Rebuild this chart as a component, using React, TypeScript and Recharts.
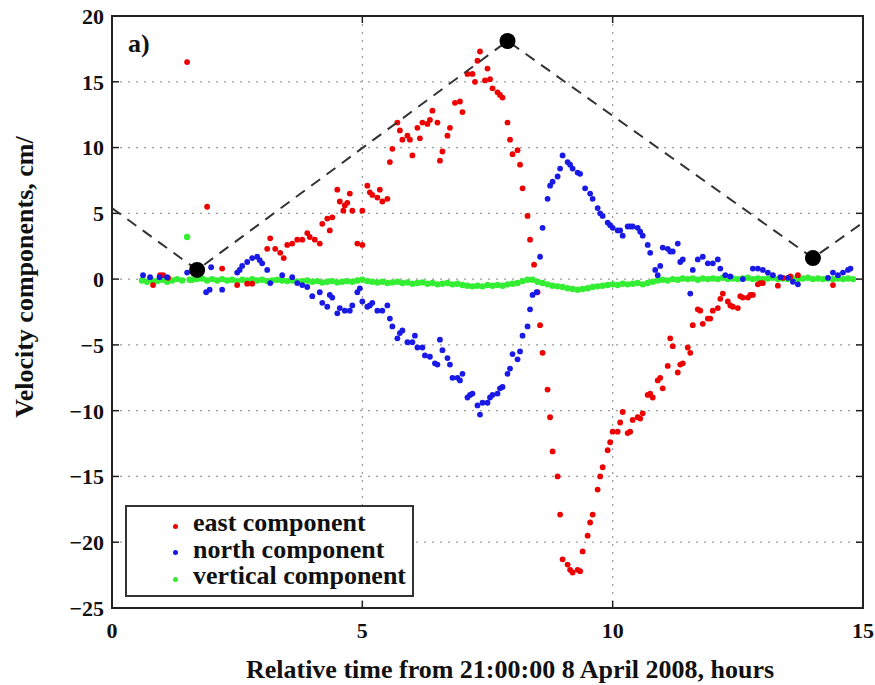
import React from 'react';
import { ScatterChart, Scatter, XAxis, YAxis, CartesianGrid, ReferenceArea, Legend } from 'recharts';

// ---- data (hours, cm/s) ----
const xTicks = [0, 5, 10, 15];
const yTicks = [-25, -20, -15, -10, -5, 0, 5, 10, 15, 20];

const eastPoints: [number, number][] = [
  [0.82, -0.45], [0.96, 0.3], [1.02, 0.3], [1.12, 0.1], [1.5, 16.5], [1.9, 5.5], [2.2, 0.8], [2.5, -0.45],
  [2.7, -0.35], [2.8, -0.35], [3.1, 2.3], [3.16, 3.1], [3.26, 2.3], [3.36, 2.0], [3.43, 1.6], [3.5, 2.6],
  [3.6, 2.7], [3.7, 3.0], [3.8, 3.0], [3.9, 3.5], [3.95, 3.2], [4.05, 3.0], [4.15, 2.7], [4.2, 4.2],
  [4.3, 4.6], [4.35, 3.7], [4.4, 4.7], [4.5, 6.8], [4.55, 5.9], [4.65, 5.6], [4.7, 5.8], [4.75, 6.5],
  [4.62, 5.2], [4.8, 5.2], [4.9, 2.7], [5.0, 2.6], [5.0, 5.2], [5.1, 7.1], [5.15, 6.6], [5.2, 6.4],
  [5.3, 6.2], [5.35, 6.8], [5.4, 5.9], [5.5, 6.1], [5.55, 8.9], [5.6, 9.9], [5.7, 11.9], [5.75, 11.3],
  [5.8, 10.6], [5.9, 10.9], [5.95, 10.6], [6.0, 9.4], [6.1, 11.5], [6.15, 10.7], [6.2, 11.9], [6.3, 11.8],
  [6.35, 12.1], [6.4, 12.8], [6.5, 11.9], [6.55, 9.0], [6.6, 9.7], [6.7, 10.9], [6.75, 11.5], [6.85, 13.4],
  [6.95, 13.5], [7.0, 12.7], [7.1, 15.6], [7.2, 15.6], [7.25, 15.0], [7.3, 16.6], [7.35, 17.3], [7.45, 15.1],
  [7.5, 16.0], [7.55, 15.2], [7.6, 14.5], [7.7, 14.2], [7.75, 14.0], [7.8, 13.8], [7.9, 11.9], [7.95, 10.6],
  [8.0, 9.5], [8.1, 9.8], [8.15, 8.7], [8.2, 6.9], [8.3, 4.8], [8.35, 3.0], [8.43, 1.1], [8.5, -1.0],
  [8.55, -3.5], [8.6, -5.6], [8.7, -8.4], [8.75, -10.5], [8.8, -13.1], [8.9, -15.0], [8.95, -17.9], [9.0, -21.3],
  [9.1, -21.7], [9.15, -22.1], [9.2, -22.3], [9.3, -22.1], [9.35, -22.2], [9.4, -20.7], [9.5, -19.5], [9.55, -18.5],
  [9.6, -17.9], [9.7, -16.0], [9.75, -15.0], [9.8, -14.3], [9.9, -13.0], [9.95, -12.4], [10.0, -11.6], [10.1, -11.6],
  [10.15, -10.9], [10.2, -10.1], [10.3, -11.7], [10.35, -11.6], [10.4, -10.7], [10.5, -10.5], [10.55, -10.6], [10.6, -10.2],
  [10.7, -8.8], [10.75, -8.7], [10.8, -9.0], [10.9, -7.7], [10.95, -7.5], [11.0, -8.3], [11.1, -6.6], [11.15, -4.5],
  [11.2, -5.1], [11.3, -7.1], [11.35, -6.5], [11.4, -6.4], [11.5, -5.2], [11.55, -5.6], [11.6, -3.5], [11.7, -2.3],
  [11.75, -2.4], [11.8, -3.4], [11.9, -3.0], [11.95, -3.0], [12.0, -2.4], [12.1, -2.2], [12.15, -1.5], [12.2, -1.1],
  [12.3, -1.7], [12.35, -2.0], [12.4, -2.1], [12.5, -2.2], [12.55, -1.3], [12.6, -1.4], [12.7, -1.4], [12.75, -1.2],
  [12.8, -1.2], [12.9, -0.4], [12.95, -0.3], [13.0, -0.3], [13.3, -0.5], [13.4, 0.1], [13.55, 0.2], [13.7, 0.3],
  [14.4, -0.45],
];

const northPoints: [number, number][] = [
  [0.62, 0.3], [0.76, 0.15], [0.95, 0.15], [1.1, 0.15], [1.5, 0.5], [1.88, -1.0], [1.95, -0.8], [1.98, 0.9],
  [2.2, -0.8], [2.5, 0.5], [2.55, 0.7], [2.6, 1.0], [2.7, 1.3], [2.8, 1.6], [2.9, 1.7], [2.95, 1.45],
  [3.0, 1.2], [3.1, 0.7], [3.16, -0.3], [3.4, 0.3], [3.6, 0.15], [3.7, -0.3], [3.8, -0.45], [3.9, -0.6],
  [4.0, -1.3], [4.15, -1.0], [4.2, -1.8], [4.3, -2.1], [4.35, -1.2], [4.4, -1.4], [4.5, -2.6], [4.55, -2.2],
  [4.65, -2.4], [4.75, -2.4], [4.8, -2.0], [4.9, -1.0], [4.95, -0.7], [5.0, -1.7], [5.1, -2.1], [5.15, -2.0],
  [5.2, -1.8], [5.3, -2.4], [5.4, -2.4], [5.5, -2.0], [5.55, -3.0], [5.6, -3.6], [5.7, -4.5], [5.75, -4.1],
  [5.8, -3.9], [5.9, -4.8], [6.0, -4.8], [6.05, -4.3], [6.1, -5.2], [6.2, -5.2], [6.25, -5.8], [6.35, -5.9],
  [6.45, -6.4], [6.5, -6.5], [6.55, -4.6], [6.6, -5.4], [6.7, -6.0], [6.75, -6.5], [6.8, -7.5], [6.9, -7.5],
  [6.95, -7.7], [7.0, -7.2], [7.1, -9.0], [7.15, -8.8], [7.2, -8.7], [7.3, -9.6], [7.35, -10.3], [7.4, -9.4],
  [7.5, -9.4], [7.55, -9.0], [7.6, -8.8], [7.7, -8.7], [7.75, -8.3], [7.8, -8.2], [7.9, -7.2], [7.95, -6.8],
  [8.0, -5.7], [8.1, -6.1], [8.15, -5.5], [8.2, -4.3], [8.3, -3.6], [8.35, -2.3], [8.4, -1.2], [8.48, -1.0],
  [8.55, 1.7], [8.6, 3.9], [8.7, 6.1], [8.75, 7.1], [8.8, 7.4], [8.9, 7.8], [8.95, 8.4], [9.0, 9.4],
  [9.1, 8.9], [9.15, 8.7], [9.2, 8.4], [9.3, 8.1], [9.35, 8.0], [9.45, 6.9], [9.55, 6.5], [9.6, 6.1],
  [9.7, 5.4], [9.75, 5.0], [9.8, 4.8], [9.9, 4.3], [9.95, 4.1], [10.0, 3.9], [10.1, 3.7], [10.15, 3.7],
  [10.2, 3.3], [10.3, 4.0], [10.35, 4.0], [10.4, 4.0], [10.5, 3.9], [10.55, 3.6], [10.6, 3.3], [10.7, 2.6],
  [10.75, 2.0], [10.85, 0.7], [10.9, 0.3], [10.95, 1.0], [11.0, 2.4], [11.1, 2.3], [11.15, 2.1], [11.2, 2.1],
  [11.3, 2.7], [11.35, 1.3], [11.4, 1.5], [11.55, -1.1], [11.6, 0.7], [11.7, 1.5], [11.8, 1.7], [11.9, 1.2],
  [12.0, 1.2], [12.1, 1.5], [12.15, 0.8], [12.25, 0.3], [12.35, 0.2], [12.6, 0.0], [12.8, 0.8], [12.9, 0.8],
  [13.0, 0.7], [13.1, 0.5], [13.2, 0.3], [13.35, 0.15], [13.5, 0.1], [13.6, -0.2], [13.7, -0.4], [14.3, 0.1],
  [14.4, 0.5], [14.5, 0.3], [14.6, 0.5], [14.7, 0.7], [14.75, 0.8],
];

const verticalPoints: [number, number][] = [
  [0.6, -0.1], [0.7, -0.2], [0.8, -0.1], [0.9, -0.15], [1.0, -0.05], [1.1, -0.2], [1.2, -0.1], [1.3, 0.0],
  [1.4, -0.1], [1.5, 3.2], [1.55, -0.05], [1.6, -0.05], [1.7, 0.0], [1.8, 0.05], [1.9, -0.1], [2.0, 0.0],
  [2.1, -0.1], [2.2, 0.0], [2.3, -0.1], [2.4, -0.05], [2.5, -0.15], [2.6, -0.05], [2.7, -0.1], [2.8, 0.0],
  [2.9, -0.1], [3.0, -0.05], [3.1, -0.15], [3.2, -0.1], [3.3, -0.05], [3.4, -0.1], [3.5, -0.15], [3.6, -0.1],
  [3.7, -0.2], [3.8, -0.15], [3.9, -0.1], [4.0, -0.2], [4.1, -0.15], [4.2, -0.25], [4.3, -0.2], [4.4, -0.15],
  [4.5, -0.25], [4.6, -0.2], [4.7, -0.15], [4.8, -0.2], [4.9, -0.1], [5.0, -0.05], [5.1, -0.15], [5.2, -0.2],
  [5.3, -0.25], [5.4, -0.2], [5.5, -0.3], [5.6, -0.25], [5.7, -0.2], [5.8, -0.3], [5.9, -0.25], [6.0, -0.35],
  [6.1, -0.3], [6.2, -0.25], [6.3, -0.35], [6.4, -0.3], [6.5, -0.4], [6.6, -0.35], [6.7, -0.3], [6.8, -0.4],
  [6.9, -0.35], [7.0, -0.45], [7.1, -0.5], [7.2, -0.55], [7.3, -0.5], [7.4, -0.55], [7.5, -0.45], [7.6, -0.5],
  [7.7, -0.45], [7.8, -0.5], [7.9, -0.4], [8.0, -0.35], [8.1, -0.3], [8.2, -0.15], [8.3, -0.05], [8.4, -0.05],
  [8.5, -0.2], [8.6, -0.3], [8.7, -0.4], [8.8, -0.5], [8.9, -0.55], [9.0, -0.6], [9.1, -0.7], [9.2, -0.75],
  [9.3, -0.8], [9.4, -0.75], [9.5, -0.7], [9.6, -0.6], [9.7, -0.55], [9.8, -0.5], [9.9, -0.45], [10.0, -0.4],
  [10.1, -0.45], [10.2, -0.35], [10.3, -0.4], [10.4, -0.35], [10.5, -0.3], [10.6, -0.4], [10.7, -0.3], [10.8, -0.2],
  [10.9, -0.1], [11.0, -0.05], [11.1, -0.1], [11.2, 0.0], [11.3, -0.05], [11.4, 0.05], [11.5, 0.0], [11.6, 0.05],
  [11.7, -0.05], [11.8, 0.05], [11.9, 0.0], [12.0, 0.05], [12.1, 0.0], [12.2, 0.1], [12.3, 0.0], [12.4, 0.05],
  [12.5, 0.0], [12.6, 0.05], [12.7, 0.1], [12.8, 0.0], [12.9, 0.05], [13.0, 0.0], [13.1, 0.05], [13.2, 0.1],
  [13.3, 0.0], [13.4, 0.05], [13.5, 0.0], [13.6, 0.05], [13.7, 0.0], [13.8, 0.05], [13.9, 0.1], [14.0, 0.0],
  [14.1, 0.05], [14.2, 0.0], [14.3, 0.05], [14.4, 0.0], [14.5, 0.05], [14.6, 0.0], [14.7, 0.05], [14.8, 0.0],
];

// dashed track and its apex markers
const trackPoints: [number, number][] = [[0, 5.4], [1.7, 0.7], [7.9, 18.1], [14.0, 1.6], [15, 4.3]];
const apexPoints: [number, number][] = [[1.7, 0.7], [7.9, 18.1], [14.0, 1.6]];

const seriesNames = ['east component', 'north component', 'vertical component'];
const seriesColors = ['#ee0000', '#1a1ae6', '#33ee33'];

// ---- layout (page coordinates; the wrapper is placed at the page origin) ----
const W = 875;
const H = 685;
const PL = 112;
const PR = 863;
const PT = 16;
const PB = 608;
const FONT = 'Liberation Serif, Times New Roman, Times, DejaVu Serif, serif';

const toObj = (arr: [number, number][]) => arr.map(([x, y]) => ({ x, y }));

const fmt = (v: number) => (v < 0 ? '\u2212' + Math.abs(v) : String(v));

const YTick = (props: any) => {
  const { y, payload } = props;
  const v = payload.value;
  const inner = v !== -25 && v !== 20;
  return (
    <g>
      <text x={PL - 8} y={y} dy="0.36em" textAnchor="end" style={{ fontFamily: FONT }} fontSize={22} fontWeight="bold" fill="#111">
        {fmt(v)}
      </text>
      {inner && <line x1={PL} x2={PL + 7} y1={y} y2={y} stroke="#222" strokeWidth={1.5} />}
      {inner && <line x1={PR - 7} x2={PR} y1={y} y2={y} stroke="#222" strokeWidth={1.5} />}
    </g>
  );
};

const XTick = (props: any) => {
  const { x, payload } = props;
  const v = payload.value;
  const inner = v !== 0 && v !== 15;
  return (
    <g>
      <text x={x} y={PB + 30} textAnchor="middle" style={{ fontFamily: FONT }} fontSize={22} fontWeight="bold" fill="#111">
        {fmt(v)}
      </text>
      {inner && <line x1={x} x2={x} y1={PB} y2={PB - 7} stroke="#222" strokeWidth={1.5} />}
      {inner && <line x1={x} x2={x} y1={PT} y2={PT + 7} stroke="#222" strokeWidth={1.5} />}
    </g>
  );
};

const YLabel = () => (
  <text
    x={24}
    y={277}
    transform="rotate(-90 24 277)"
    textAnchor="middle"
    dominantBaseline="central"
    style={{ fontFamily: FONT }}
    fontSize={26}
    fontWeight="bold"
    fill="#111"
  >
    Velocity components, cm/
  </text>
);

const XLabel = () => (
  <text x={510} y={678} textAnchor="middle" style={{ fontFamily: FONT }} fontSize={26} fontWeight="bold" fill="#111">
    Relative time from 21:00:00 8 April 2008, hours
  </text>
);

const makeDot = (color: string, r: number) => (p: any) =>
  <circle cx={p.cx} cy={p.cy} r={r} fill={color} />;

const noDot = () => <g />;

const LegendBox = () => (
  <div
    style={{
      width: 289,
      height: 92,
      boxSizing: 'border-box',
      border: '2px solid #333',
      background: '#fff',
      paddingTop: 3,
      fontFamily: FONT,
      fontSize: 26,
      fontWeight: 'bold',
      color: '#111',
    }}
  >
    {seriesNames.map((name, i) => (
      <div key={name} style={{ position: 'relative', height: 26.5, lineHeight: '26.5px', paddingLeft: 66, whiteSpace: 'nowrap' }}>
        <span
          style={{
            position: 'absolute',
            left: 45.5,
            top: 13.5,
            width: 5,
            height: 5,
            borderRadius: '50%',
            background: seriesColors[i],
          }}
        />
        {name}
      </div>
    ))}
  </div>
);

export default function App() {
  return (
    <div style={{ position: 'absolute', left: 0, top: 0, width: W, height: H, background: '#fff', overflow: 'hidden' }}>
      <ScatterChart width={W} height={H} margin={{ top: PT, right: W - PR, left: PL - 60, bottom: H - PB - 60 }}>
        <CartesianGrid stroke="#999" strokeDasharray="2 6" strokeWidth={1.2} />
        <XAxis
          type="number"
          dataKey="x"
          domain={[0, 15]}
          ticks={xTicks}
          interval={0}
          height={60}
          axisLine={false}
          tickLine={false}
          tickSize={0}
          tick={<XTick />}
          label={<XLabel />}
        />
        <YAxis
          type="number"
          dataKey="y"
          domain={[-25, 20]}
          ticks={yTicks}
          interval={0}
          width={60}
          axisLine={false}
          tickLine={false}
          tickSize={0}
          tick={<YTick />}
          label={<YLabel />}
        />
        <Scatter name="vertical component" data={toObj(verticalPoints)} shape={makeDot(seriesColors[2], 3.2)} isAnimationActive={false} />
        <Scatter name="east component" data={toObj(eastPoints)} shape={makeDot(seriesColors[0], 2.9)} isAnimationActive={false} />
        <Scatter name="north component" data={toObj(northPoints)} shape={makeDot(seriesColors[1], 2.9)} isAnimationActive={false} />
        <Scatter
          name="track"
          data={toObj(trackPoints)}
          line={{ stroke: '#333', strokeWidth: 2, strokeDasharray: '11 8' }}
          lineType="joint"
          shape={noDot}
          isAnimationActive={false}
        />
        <Scatter name="apex" data={toObj(apexPoints)} shape={makeDot('#000', 8)} isAnimationActive={false} />
        <ReferenceArea x1={0} x2={15} y1={-25} y2={20} fill="none" stroke="#222" strokeWidth={2} ifOverflow="visible" />
        <Legend
          layout="vertical"
          align="center"
          verticalAlign="middle"
          content={<LegendBox />}
          wrapperStyle={{ position: 'absolute', left: 125, top: 505, width: 289, height: 92 }}
        />
      </ScatterChart>
      <div
        style={{
          position: 'absolute',
          left: 128,
          top: 31,
          fontFamily: FONT,
          fontSize: 26,
          fontWeight: 'bold',
          color: '#111',
          lineHeight: '26px',
        }}
      >
        a)
      </div>
    </div>
  );
}
